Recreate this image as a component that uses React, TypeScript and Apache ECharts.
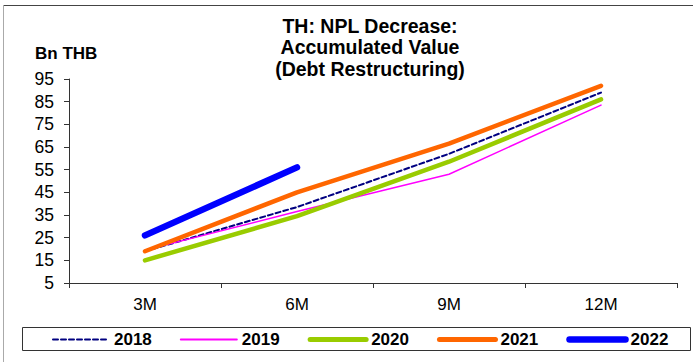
import React, { useEffect, useRef } from "react";
import * as echarts from "echarts";

const categories = ["3M", "6M", "9M", "12M"];
const s2018 = [19, 38.5, 62, 89];
const s2019 = [19.5, 36.5, 53, 83.5];
const s2020 = [15, 34.5, 58.5, 86];
const s2021 = [19, 45, 66.5, 92];
const s2022 = [26, 56];
const seriesNames = ["2018", "2019", "2020", "2021", "2022"];
const yTicks = { min: 5, max: 95, step: 10 };

const FONT = "'Liberation Sans', Arial, sans-serif";

const styles: Record<string, { color: string; width: number; legendWidth: number; type: any }> = {
  "2018": { color: "#000080", width: 2, legendWidth: 2, type: [5, 3] },
  "2019": { color: "#ff00ff", width: 1.5, legendWidth: 2, type: "solid" },
  "2020": { color: "#99cc00", width: 4.5, legendWidth: 5, type: "solid" },
  "2021": { color: "#ff6600", width: 4.5, legendWidth: 5, type: "solid" },
  "2022": { color: "#0000ff", width: 6.5, legendWidth: 6.5, type: "solid" },
};

export default function App() {
  const ref = useRef<HTMLDivElement>(null);
  useEffect(() => {
    if (!ref.current) return;
    const chart = echarts.init(ref.current, null, { renderer: "svg" });
    const mk = (name: string, data: number[]) => ({
      name,
      type: "line",
      data,
      symbol: "none",
      smooth: false,
      lineStyle: { color: styles[name].color, width: styles[name].width, type: styles[name].type, cap: "round", join: "round" },
      itemStyle: { color: styles[name].color },
    });
    chart.setOption({
      animation: false,
      backgroundColor: "#ffffff",
      textStyle: { fontFamily: FONT },
      grid: { left: 69, right: 16, top: 79, bottom: 79, containLabel: false },
      xAxis: {
        type: "category",
        data: categories,
        boundaryGap: true,
        axisLine: { lineStyle: { color: "#333", width: 1 } },
        axisTick: { show: true, interval: 0, length: 5, lineStyle: { color: "#333" } },
        axisLabel: { color: "#000", fontSize: 17, fontFamily: FONT, margin: 13 },
        splitLine: { show: false },
      },
      yAxis: {
        type: "value",
        min: yTicks.min,
        max: yTicks.max,
        interval: yTicks.step,
        axisLine: { show: true, lineStyle: { color: "#333", width: 1 } },
        axisTick: { show: true, length: 5, lineStyle: { color: "#333" } },
        axisLabel: { color: "#000", fontSize: 17.5, fontFamily: FONT, margin: 15 },
        splitLine: { show: false },
      },
      legend: {
        data: seriesNames.map((n) => ({
          name: n,
          lineStyle: { width: styles[n].legendWidth, color: styles[n].color, type: styles[n].type, cap: "round" },
        })),
        left: 52,
        top: 331,
        itemWidth: 56,
        itemHeight: 14,
        itemGap: 28,
        padding: 0,
        itemStyle: { opacity: 0 },
        textStyle: { color: "#000", fontSize: 17, fontWeight: "bold", fontFamily: FONT, padding: [0, 0, 0, 0] },
      },
      graphic: [
        { type: "line", shape: { x1: 3.5, y1: 5.5, x2: 693, y2: 5.5 }, style: { stroke: "#444", lineWidth: 1 } },
        { type: "line", shape: { x1: 3.5, y1: 5.5, x2: 3.5, y2: 362 }, style: { stroke: "#aaa", lineWidth: 1 } },
        { type: "rect", shape: { x: 22.5, y: 327.5, width: 668, height: 23 }, style: { fill: "none", stroke: "#333", lineWidth: 1 } },
        {
          type: "text",
          x: 370,
          y: 15,
          style: {
            text: "TH: NPL Decrease:\nAccumulated Value\n(Debt Restructuring)",
            fontFamily: FONT,
            fontSize: 19.5,
            fontWeight: "bold",
            align: "center",
            verticalAlign: "top",
            lineHeight: 21.5,
            fill: "#000",
          },
        },
        {
          type: "text",
          x: 35,
          y: 53,
          style: { text: "Bn THB", fontFamily: FONT, fontSize: 17, fontWeight: "bold", align: "left", verticalAlign: "middle", fill: "#000" },
        },
      ],
      series: seriesNames.map((n, i) => mk(n, [s2018, s2019, s2020, s2021, s2022][i])),
    });
    return () => chart.dispose();
  }, []);
  return <div ref={ref} style={{ position: "fixed", left: 0, top: 0, width: 693, height: 362 }} />;
}
